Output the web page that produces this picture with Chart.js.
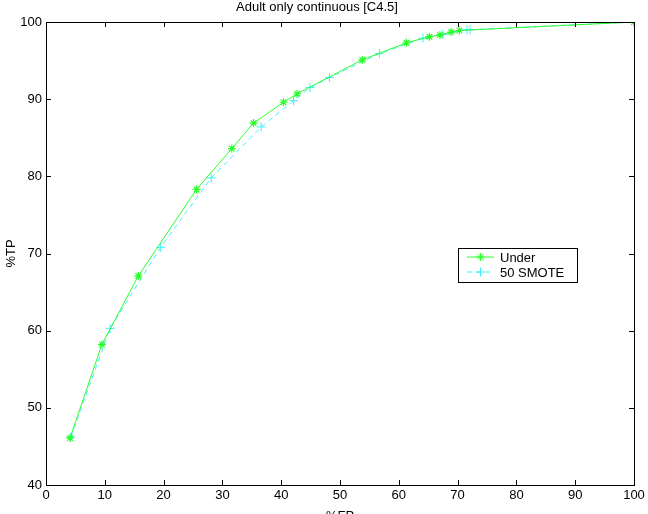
<!DOCTYPE html>
<html>
<head>
<meta charset="utf-8">
<script src="https://cdn.jsdelivr.net/npm/chart.js@4"></script>
<style>
  html, body { margin: 0; padding: 0; background: #fff; overflow: hidden; }
  #wrap { width: 648px; height: 514px; }
</style>
</head>
<body>
<div id="wrap"><canvas id="myChart"></canvas></div>
<script>
// ROC points (%FP, %TP)
const underFP = [4.1, 9.5, 15.7, 25.6, 31.6, 35.3, 40.4, 42.7, 53.8, 61.3, 65.2, 67.0, 68.9, 70.3, 100];
const underTP = [46.1, 58.2, 67.1, 78.3, 83.6, 86.9, 89.6, 90.7, 95.1, 97.3, 98.1, 98.3, 98.7, 98.9, 100];
const smoteFP = [4.2, 10.9, 19.5, 28.1, 36.6, 42.1, 44.9, 48.2, 56.7, 64.1, 67.5, 71.6, 72.1, 100];
const smoteTP = [46.2, 60.3, 70.8, 79.8, 86.4, 89.8, 91.5, 92.8, 95.9, 97.9, 98.4, 99.0, 99.0, 100];
const xTicks = [0, 10, 20, 30, 40, 50, 60, 70, 80, 90, 100];
const yTicks = [40, 50, 60, 70, 80, 90, 100];
const seriesNames = ['Under', '50 SMOTE'];

const FONT = 'Liberation Sans, Arial, Helvetica, sans-serif';
const toXY = (xs, ys) => xs.map((x, i) => ({ x: x, y: ys[i] }));

// box with inward ticks on all four sides, plus a legend drawn inside the axes
const matlabAxes = {
  id: 'matlabAxes',
  afterDraw(chart) {
    const { ctx, chartArea: a, scales } = chart;
    const tl = 5;
    ctx.save();
    ctx.strokeStyle = '#000';
    ctx.lineWidth = 1;
    ctx.beginPath();
    xTicks.forEach(t => {
      const px = Math.round(scales.x.getPixelForValue(t)) + 0.5;
      ctx.moveTo(px, a.bottom); ctx.lineTo(px, a.bottom - tl);
      ctx.moveTo(px, a.top); ctx.lineTo(px, a.top + tl);
    });
    yTicks.forEach(t => {
      const py = Math.round(scales.y.getPixelForValue(t)) + 0.5;
      ctx.moveTo(a.left, py); ctx.lineTo(a.left + tl, py);
      ctx.moveTo(a.right, py); ctx.lineTo(a.right - tl, py);
    });
    ctx.stroke();
    ctx.strokeRect(Math.round(a.left) + 0.5, Math.round(a.top) + 0.5,
      Math.round(a.right - a.left), Math.round(a.bottom - a.top));

    // legend
    const lx = 458.5, ly = 248.5, lw = 119, lh = 34;
    ctx.fillStyle = '#fff';
    ctx.fillRect(lx, ly, lw, lh);
    ctx.strokeStyle = '#000';
    ctx.strokeRect(lx, ly, lw, lh);
    ctx.font = '13px ' + FONT;
    ctx.textBaseline = 'middle';
    chart.data.datasets.forEach((ds, i) => {
      const y = 257 + i * 15;
      ctx.strokeStyle = ds.borderColor;
      ctx.lineWidth = 1;
      ctx.setLineDash(ds.borderDash || []);
      ctx.beginPath();
      ctx.moveTo(467, y); ctx.lineTo(494, y);
      ctx.stroke();
      ctx.setLineDash([]);
      Chart.helpers.drawPoint(ctx, {
        pointStyle: ds.pointStyle, radius: ds.pointRadius, borderWidth: 1
      }, 480.5, y);
      ctx.fillStyle = '#000';
      ctx.fillText(ds.label, 500, y + 1);
    });
    ctx.restore();
  }
};

new Chart(document.getElementById('myChart'), {
  type: 'scatter',
  data: {
    datasets: [{
      label: seriesNames[0],
      data: toXY(underFP, underTP),
      showLine: true,
      borderColor: 'rgb(40,255,40)',
      backgroundColor: 'rgb(40,255,40)',
      borderWidth: 1,
      pointStyle: 'star',
      pointRadius: 4,
      pointBorderWidth: 1.2
    }, {
      label: seriesNames[1],
      data: toXY(smoteFP, smoteTP),
      showLine: true,
      borderColor: 'rgb(60,240,255)',
      backgroundColor: 'rgb(60,240,255)',
      borderWidth: 1,
      borderDash: [5, 4],
      pointStyle: 'cross',
      pointRadius: 4.5,
      pointBorderWidth: 1
    }]
  },
  plugins: [matlabAxes],
  options: {
    responsive: true,
    maintainAspectRatio: false,
    animation: false,
    layout: { padding: { right: 14 } },
    plugins: {
      legend: { display: false },
      tooltip: { enabled: false },
      title: {
        display: true,
        text: 'Adult only continuous [C4.5]',
        color: '#000',
        font: { family: FONT, size: 13, weight: 'normal' },
        padding: { top: 0, bottom: 6.4 }
      }
    },
    scales: {
      x: {
        type: 'linear',
        min: 0,
        max: 100,
        afterFit: s => { s.height = 29; },
        ticks: { stepSize: 10, color: '#000', padding: 3, maxRotation: 0,
          font: { family: FONT, size: 13 } },
        grid: { drawOnChartArea: false, drawTicks: false },
        border: { display: false },
        title: {
          display: true,
          text: '%FP',
          color: '#000',
          font: { family: FONT, size: 13 },
          padding: { top: 0, bottom: -10 }
        }
      },
      y: {
        min: 40,
        max: 100,
        afterFit: s => { s.width = 46; },
        ticks: { stepSize: 10, color: '#000', padding: 4,
          font: { family: FONT, size: 13 } },
        grid: { drawOnChartArea: false, drawTicks: false },
        border: { display: false },
        title: {
          display: true,
          text: '%TP',
          color: '#000',
          font: { family: FONT, size: 13 },
          padding: { top: 4 }
        }
      }
    }
  }
});
</script>
</body>
</html>
